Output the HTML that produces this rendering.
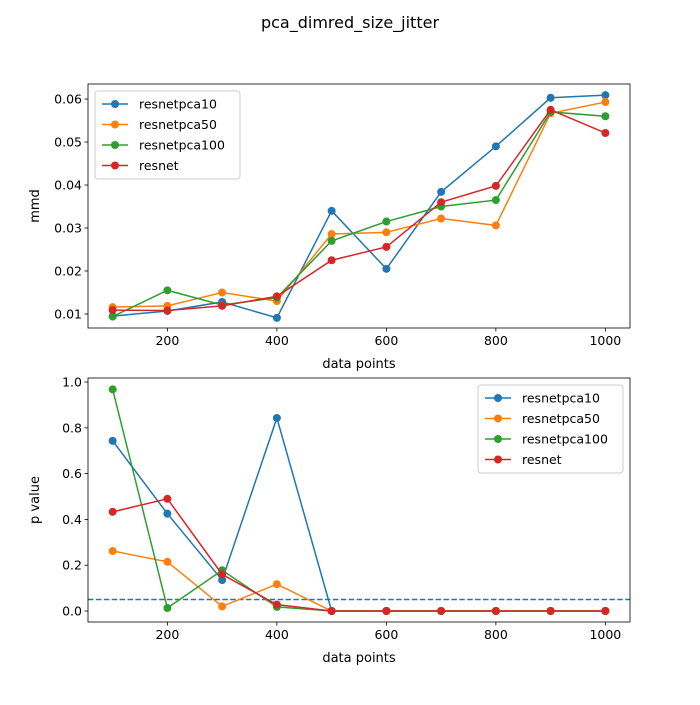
<!DOCTYPE html>
<html><head><meta charset="utf-8"><style>
body{margin:0;background:#fff;font-family:"Liberation Sans","DejaVu Sans",sans-serif;}
svg text{font-family:"DejaVu Sans","Liberation Sans",sans-serif;}
</style></head><body>
<svg id="chart" width="700" height="700" xmlns="http://www.w3.org/2000/svg">
<rect width="700" height="700" fill="#fff"/>
<text x="350" y="28" font-size="16" text-anchor="middle">pca_dimred_size_jitter</text>
</svg>
<script>
const xs=[100,200,300,400,500,600,700,800,900,1000];
const seriesNames=["resnetpca10","resnetpca50","resnetpca100","resnet"];
const colors=["#1f77b4","#ff7f0e","#2ca02c","#d62728"];
const mmd10=[0.0095,0.0107,0.0128,0.0091,0.034,0.0205,0.0384,0.049,0.0603,0.0609];
const mmd50=[0.0116,0.0119,0.015,0.013,0.0286,0.029,0.0322,0.0306,0.0567,0.0593];
const mmd100=[0.0094,0.0155,0.0121,0.0138,0.027,0.0315,0.035,0.0365,0.057,0.056];
const mmdRes=[0.0109,0.0108,0.0119,0.0141,0.0225,0.0256,0.036,0.0398,0.0575,0.0521];
const p10=[0.743,0.425,0.135,0.843,0,0,0,0,0,0];
const p50=[0.262,0.215,0.02,0.117,0,0,0,0,0,0];
const p100=[0.968,0.013,0.178,0.018,0,0,0,0,0,0];
const pRes=[0.433,0.49,0.16,0.028,0,0,0,0,0,0];
const xTicks=[200,400,600,800,1000];
const topTicks=[0.01,0.02,0.03,0.04,0.05,0.06];
const botTicks=[0.0,0.2,0.4,0.6,0.8,1.0];
const threshold=0.05;

const svg=document.getElementById('chart');
const NS="http://www.w3.org/2000/svg";
function mk(tag,attrs,parent){const e=document.createElementNS(NS,tag);for(const k in attrs)e.setAttribute(k,attrs[k]);(parent||svg).appendChild(e);return e;}
const L=88,R=630;
const xScale=v=>L+(v-55)/(1045-55)*(R-L);

function panel(top,bot,ymin,ymax,data,ticks,fmt,ylabel,legendRight,name){
  const g=mk('g',{});
  
  
  const y=v=>bot-(v-ymin)/(ymax-ymin)*(bot-top);
  if(name==='pvalue-panel'){
    const d=mk('line',{x1:L,x2:R,y1:y(threshold),y2:y(threshold),stroke:'#1f77b4','stroke-width':1.5,'stroke-dasharray':'5.5,2.4'},g);
    
    
  }
  data.forEach((arr,i)=>{
    const pts=arr.map((v,j)=>xScale(xs[j])+','+y(v)).join(' ');
    const pl=mk('polyline',{points:pts,fill:'none',stroke:colors[i],'stroke-width':1.5},g);
    
    
    arr.forEach((v,j)=>{
      const c=mk('circle',{cx:xScale(xs[j]),cy:y(v),r:4,fill:colors[i]},g);
      
      
    });
  });
  const fr=mk('rect',{x:L,y:top,width:R-L,height:bot-top,fill:'none',stroke:'#000','stroke-width':0.8},g);
  
  
  xTicks.forEach(t=>{
    mk('line',{x1:xScale(t),x2:xScale(t),y1:bot,y2:bot+3.5,stroke:'#000','stroke-width':0.8},g);
    const tx=mk('text',{x:xScale(t),y:bot+17,'font-size':12.5,'text-anchor':'middle'},g);
    tx.textContent=t;
    
    
  });
  ticks.forEach(t=>{
    mk('line',{x1:L-3.5,x2:L,y1:y(t),y2:y(t),stroke:'#000','stroke-width':0.8},g);
    const tx=mk('text',{x:L-6,y:y(t)+4.5,'font-size':12.5,'text-anchor':'end'},g);
    tx.textContent=fmt(t);
    
    
  });
  const xl=mk('text',{x:(L+R)/2,y:bot+40,'font-size':13,'text-anchor':'middle'},g);
  xl.textContent='data points';
  
  
  const yx=L-49,yy=(top+bot)/2;
  const yl=mk('text',{x:yx,y:yy,'font-size':13,'text-anchor':'middle',transform:`rotate(-90 ${yx} ${yy})`},g);
  yl.textContent=ylabel;
  
  
  const lx=legendRight?478:95,ly=top+7,lw=145;
  const lg=mk('g',{},g);
  
  
  mk('rect',{x:lx,y:ly,width:lw,height:88,rx:3,fill:'#fff','fill-opacity':0.8,stroke:'#ccc'},lg);
  seriesNames.forEach((n,i)=>{
    const cy=ly+13+i*20.5;
    mk('line',{x1:lx+7,x2:lx+33,y1:cy,y2:cy,stroke:colors[i],'stroke-width':1.5},lg);
    mk('circle',{cx:lx+20,cy:cy,r:4,fill:colors[i]},lg);
    const t=mk('text',{x:lx+44,y:cy+4.5,'font-size':12.5},lg);
    t.textContent=n;
    
    
  });
}
panel(84,328,0.00674,0.0635,[mmd10,mmd50,mmd100,mmdRes],topTicks,t=>t.toFixed(2),'mmd',false,'mmd-panel');
panel(378,622,-0.048,1.0175,[p10,p50,p100,pRes],botTicks,t=>t.toFixed(1),'p value',true,'pvalue-panel');
</script>
</body></html>
